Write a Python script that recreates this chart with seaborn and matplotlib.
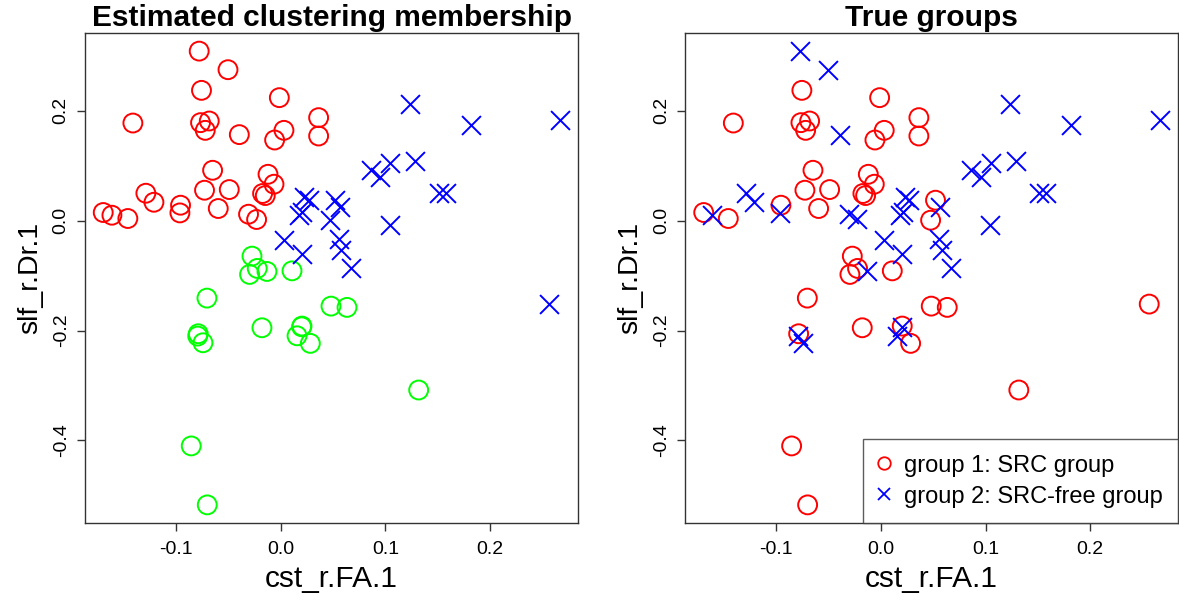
import matplotlib
matplotlib.use("Agg")
import matplotlib.pyplot as plt
from matplotlib.lines import Line2D
import seaborn as sns
import pandas as pd

# values
cst_fa = [-0.0777, -0.0502, -0.0755, -0.0012, -0.1410, -0.0764, -0.0681, -0.0719,
          -0.0394, 0.0032, -0.0057, 0.0363, 0.0363, -0.0649, -0.0120, -0.0063,
          -0.1286, -0.1209, -0.0726, -0.0490, -0.0172, -0.0146, -0.0955, -0.0961,
          -0.1693, -0.1610, -0.1458, -0.0595, -0.0306, -0.0229,
          -0.0273, -0.0223, -0.0296, -0.0130, 0.0109, -0.0703, 0.0481, 0.0634,
          -0.0786, -0.0791, -0.0741, -0.0178, 0.0204, 0.0201, 0.0157, 0.0284,
          -0.0853, -0.0700, 0.1318,
          0.1232, 0.1815, 0.2665, 0.0863, 0.0952, 0.1048, 0.1287, 0.1509, 0.1580,
          0.0226, 0.0267, 0.0179, 0.0207, 0.0522, 0.0564, 0.0475, 0.1041, 0.0029,
          0.0204, 0.0554, 0.0580, 0.0672, 0.2564]
slf_dr = [0.3087, 0.2749, 0.2373, 0.2240, 0.1778, 0.1785, 0.1815, 0.1645,
          0.1567, 0.1645, 0.1469, 0.1876, 0.1542, 0.0918, 0.0845, 0.0664,
          0.0500, 0.0336, 0.0555, 0.0567, 0.0495, 0.0458, 0.0282, 0.0142,
          0.0149, 0.0100, 0.0040, 0.0222, 0.0118, 0.0022,
          -0.0645, -0.0869, -0.0978, -0.0924, -0.0913, -0.1409, -0.1555, -0.1578,
          -0.2058, -0.2100, -0.2222, -0.1949, -0.1918, -0.1931, -0.2095, -0.2233,
          -0.4100, -0.5173, -0.3082,
          0.2118, 0.1736, 0.1827, 0.0931, 0.0796, 0.1051, 0.1087, 0.0505, 0.0513,
          0.0433, 0.0373, 0.0100, 0.0160, 0.0373, 0.0251, 0.0009, -0.0082, -0.0355,
          -0.0609, -0.0324, -0.0536, -0.0858, -0.1518]
est_cluster = [1] * 30 + [3] * 19 + [2] * 23
true_group = [2, 2, 1, 1, 1, 1, 1, 1, 2, 1, 1, 1, 1, 1, 1, 1,
              2, 2, 1, 1, 1, 1, 1, 2, 1, 2, 1, 1, 2, 2,
              1, 1, 1, 2, 1, 1, 1, 1, 1, 2, 2, 1, 1, 2, 2, 1, 1, 1, 1,
              2, 2, 2, 2, 2, 2, 2, 2, 2, 2, 2, 2, 2, 1, 2, 1, 2, 2,
              2, 2, 2, 2, 1]
x_ticks = [-0.1, 0.0, 0.1, 0.2]
y_ticks = [-0.4, -0.2, 0.0, 0.2]
legend_labels = ["group 1: SRC group", "group 2: SRC-free group"]

df = pd.DataFrame({"cst_r.FA.1": cst_fa, "slf_r.Dr.1": slf_dr,
                   "est": est_cluster, "true": true_group})

sns.set_theme(style="white")
plt.rcParams["font.family"] = ["Liberation Sans", "DejaVu Sans"]
plt.rcParams["axes.unicode_minus"] = False
plt.rcParams["text.color"] = "black"
plt.rcParams["axes.labelcolor"] = "black"

fig = plt.figure(figsize=(11.79, 6), dpi=100)
ax1 = fig.add_axes([85 / 1179, 77 / 600, 493 / 1179, 490 / 600])
ax2 = fig.add_axes([685.5 / 1179, 77 / 600, 492.5 / 1179, 490 / 600])

colors = {1: "#FF0000", 2: "#0000FF", 3: "#00FF00"}
msize = 185


def draw_group(ax, sub, col):
    if col == 2:
        sns.scatterplot(data=sub, x="cst_r.FA.1", y="slf_r.Dr.1", ax=ax,
                        marker="x", s=msize, color=colors[2], linewidth=1.4)
    else:
        sns.scatterplot(data=sub, x="cst_r.FA.1", y="slf_r.Dr.1", ax=ax,
                        marker="o", s=msize, facecolors="none",
                        edgecolor=colors[col], color=colors[col], linewidth=1.4)


for k in [1, 3, 2]:
    draw_group(ax1, df[df["est"] == k], k)
for k in [1, 2]:
    draw_group(ax2, df[df["true"] == k], k)

for ax, title in [(ax1, "Estimated clustering membership"), (ax2, "True groups")]:
    ax.set_xlim(-0.1867, 0.2839)
    ax.set_ylim(-0.5503, 0.3417)
    ax.set_xticks(x_ticks)
    ax.set_xticklabels([f"{v:.1f}" for v in x_ticks], fontsize=14)
    ax.set_yticks(y_ticks)
    ax.set_yticklabels([f"{v:.1f}" for v in y_ticks], fontsize=14,
                       rotation=90, va="center")
    ax.tick_params(axis="both", which="major", bottom=True, left=True,
                   direction="out", length=6, width=1,
                   color="#333333", labelcolor="black", pad=5)
    ax.tick_params(axis="x", pad=7)
    for sp in ax.spines.values():
        sp.set_color("#333333")
        sp.set_linewidth(1)
    ax.set_xlabel("cst_r.FA.1", fontsize=21.5, labelpad=5)
    ax.set_ylabel("slf_r.Dr.1", fontsize=20.5, labelpad=7)
    ax.set_title(title, fontsize=21.5, fontweight="bold", pad=5)

handles = [
    Line2D([], [], marker="o", linestyle="none", markersize=9, markerfacecolor="none",
           markeredgecolor=colors[1], markeredgewidth=1.3, label=legend_labels[0]),
    Line2D([], [], marker="x", linestyle="none", markersize=9, color=colors[2],
           markeredgewidth=1.3, label=legend_labels[1]),
]
leg = ax2.legend(handles=handles, loc="lower right", borderaxespad=0, fontsize=17,
                 frameon=True, fancybox=False, edgecolor="#333333",
                 handlelength=0.5, handletextpad=0.6, labelspacing=0.38,
                 borderpad=0.65)
leg.get_frame().set_linewidth(1)

fig.savefig("out.png", dpi=100)
